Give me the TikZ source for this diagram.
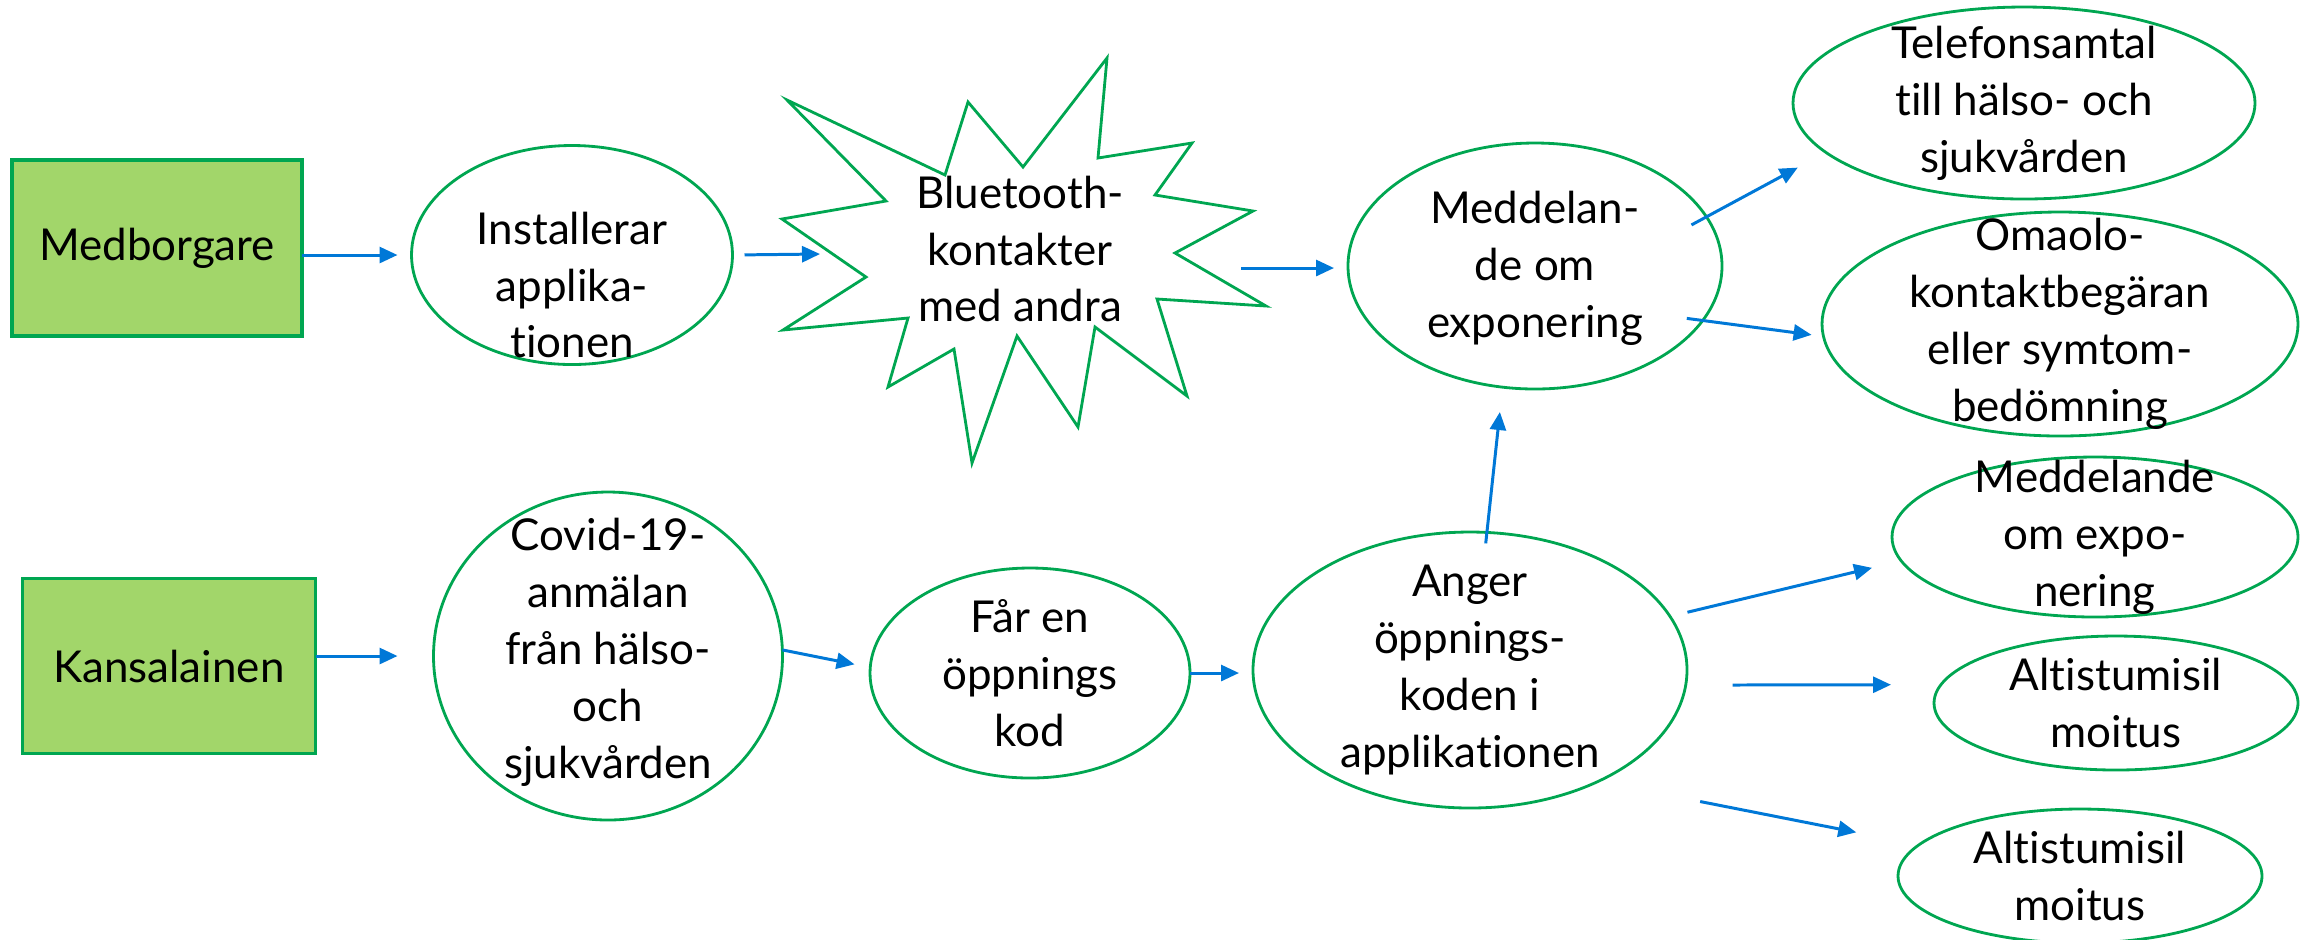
\documentclass[tikz,border=0pt]{standalone}
\usepackage{fontspec}
\setmainfont{Lato}[Ligatures={NoCommon,NoContextual}]
\usetikzlibrary{arrows.meta, positioning, shapes.geometric}
\definecolor{boxgreen}{RGB}{162,214,106}
\definecolor{linegreen}{RGB}{0,166,81}
\definecolor{arrowblue}{RGB}{0,120,215}

\begin{document}
\begin{tikzpicture} [
    x=0.1mm, y=-0.1mm,
    every node/.style={inner sep=0pt, outer sep=0pt, align=center, font=\fontsize{12.5}{16.2}\selectfont},
    actor/.style={draw=linegreen, line width=1.1pt, fill=boxgreen, rectangle},
    oval/.style={draw=linegreen, line width=0.8pt, ellipse},
    every edge/.style={draw=arrowblue, line width=0.85pt, -{Triangle[length=1.8mm, width=1.6mm]}}
  ]
  \useasboundingbox (0,0) rectangle (2316,939);

  % Nodes and Positions
  % ROW 1 (MEDBORGARE)
  \node (MEDB) [actor, minimum width=29mm, minimum height=17.6mm] at (157,248) {Medborgare};
  \node (INST) [oval, minimum width=32.1mm, minimum height=21.9mm,
    label={[yshift=-3mm]center:Installerar\\applika-\\tionen}] at (572,255) {};

  \draw [linegreen, line width=0.8pt] (787,100) -- (945,175) -- (968,102) -- (1023,167)
    -- (1107,58) -- (1098,158) -- (1192,143) -- (1155,195) -- (1253,211) -- (1175,253)
    -- (1266,306) -- (1157,299) -- (1187,396) -- (1095,327) -- (1078,427) -- (1017,336)
    -- (972,463) -- (954,349) -- (888,387) -- (908,318) -- (783,330) -- (866,277)
    -- (782,219) -- (886,201) -- cycle;
  \node (BLUE) at (1020,249) {Bluetooth-\\kontakter\\med andra};
  \coordinate (BLUEin) at (820,254);
  \coordinate (BLUEout) at (1241,268);

  \node (MEDDEL) [oval, minimum width=37.4mm, minimum height=24.6mm,
    label={[yshift=-0.2mm]center:Meddelan-\\de om\\exponering}] at (1535,266) {};

  % RIGHT COLUMN, TOP
  \node (TELEFON) [oval, minimum width=46.2mm, minimum height=19.2mm,
    label={center:Telefonsamtal\\till hälso- och\\sjukvården}] at (2024,103) {};
  \node (OMAOLO) [oval, minimum width=47.6mm, minimum height=22.4mm,
    label={center:Omaolo-\\kontaktbegäran\\eller symtom-\\bedömning}] at (2060,324) {};

  % ROW 2 (KANSALAINEN)
  \node (KANSA) [actor, minimum width=29.3mm, minimum height=17.5mm] at (169,666) {Kansalainen};
  \node (COVID) [oval, minimum width=34.9mm, minimum height=32.8mm,
    label={[yshift=0.4mm]center:Covid-19-\\anmälan\\från hälso-\\och\\sjukvården}] at (608,656) {};
  \node (FAR) [oval, minimum width=32mm, minimum height=21mm,
    label={center:Får en\\öppnings\\kod}] at (1030,673) {};
  \node (ANGER) [oval, minimum width=43.4mm, minimum height=27.6mm,
    label={center:Anger\\öppnings-\\koden i\\applikationen}] at (1470,670) {};

  % RIGHT COLUMN, BOTTOM
  \node (MEDDEL2) [oval, minimum width=40.6mm, minimum height=16mm,
    label={center:Meddelande\\om expo-\\nering}] at (2095,537) {};
  \node (ALT1) [oval, minimum width=36.4mm, minimum height=13.4mm,
    label={center:Altistumisil\\moitus}] at (2116,703) {};
  \node (ALT2) [oval, minimum width=36.4mm, minimum height=13.4mm,
    label={center:Altistumisil\\moitus}] at (2080,876) {};

  % Edges
  \path (MEDB.east |- INST.west) edge[shorten >=1.4mm] (INST.west);
  \path (INST.east) edge[shorten <=1.2mm] (BLUEin);
  \path (BLUEout) edge[shorten >=1.4mm] (BLUEout -| MEDDEL.west);

  \path (MEDDEL.16) edge[shorten <=-1.7mm, shorten >=3.2mm] (TELEFON.194);
  \path (MEDDEL.-18) edge[shorten <=-1.6mm, shorten >=1.2mm] (OMAOLO.183);

  \path (KANSA.east |- COVID.west) edge[shorten >=3.6mm] (COVID.west);
  \path (COVID.2) edge[shorten >=1.6mm] (FAR.178);
  \path (FAR.east) edge[shorten >=1.4mm] (FAR.east -| ANGER.west);

  \path (ANGER.83) edge[shorten <=-1.1mm, shorten >=2.5mm] (MEDDEL.255);
  \path (ANGER.15) edge[shorten <=1.8mm, shorten >=3mm] (MEDDEL2.187);
  \path (ANGER.-4) edge[shorten <=4.7mm, shorten >=5mm] (ALT1.174);
  \path (ANGER.-41) edge[shorten <=10.4mm, shorten >=6.4mm] (ALT2.169);

\end{tikzpicture}
\end{document}
